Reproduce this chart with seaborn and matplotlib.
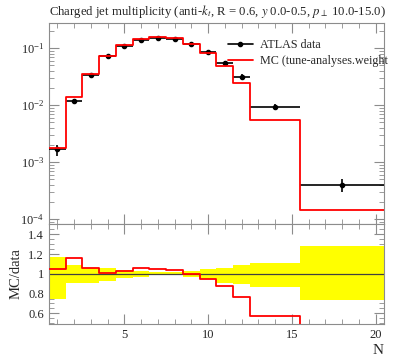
import numpy as np
import pandas as pd
import matplotlib
matplotlib.use("Agg")
import matplotlib.pyplot as plt
from matplotlib.lines import Line2D
from matplotlib.ticker import MultipleLocator, FormatStrFormatter, LogLocator
import seaborn as sns

# bin edges / centres (jet multiplicity N)
edges = [0.5, 1.5, 2.5, 3.5, 4.5, 5.5, 6.5, 7.5, 8.5, 9.5, 10.5, 11.5, 12.5, 15.5, 20.5]
centers = [1, 2, 3, 4, 5, 6, 7, 8, 9, 10, 11, 12, 14, 18]

# ATLAS data and MC prediction
data = [1.69e-3, 0.0120, 0.0340, 0.0733, 0.111, 0.140, 0.150, 0.146, 0.119, 0.0872, 0.0558, 0.0318, 0.00946, 4.0e-4]
mc = [1.78e-3, 0.0139, 0.0360, 0.0743, 0.1147, 0.1476, 0.1575, 0.1524, 0.119, 0.0825, 0.0490, 0.0245, 0.00545, 1.42e-4]

# relative data uncertainty (up / down)
err_up = [0.17, 0.09, 0.057, 0.057, 0.04, 0.03, 0.02, 0.02, 0.03, 0.045, 0.064, 0.088, 0.114, 0.283]
err_dn = [0.255, 0.088, 0.088, 0.07, 0.045, 0.03, 0.015, 0.01, 0.035, 0.05, 0.094, 0.104, 0.138, 0.263]

df = pd.DataFrame({"N": centers, "data": data, "mc": mc, "up": err_up, "dn": err_dn})
df["lo"] = edges[:-1]
df["hi"] = edges[1:]
df["ratio"] = df["mc"] / df["data"]

sns.set_style("ticks")
plt.rcParams["font.family"] = ["Liberation Serif", "DejaVu Serif"]
plt.rcParams["mathtext.fontset"] = "stix"

fig = plt.figure(figsize=(3.97, 3.58), dpi=100)
ax = fig.add_axes([0.1234, 0.3743, 0.8436, 0.5615])
rax = fig.add_axes([0.1234, 0.095, 0.8436, 0.2793], sharex=ax)

grey = "0.55"

# --- main panel ---
ax.set_yscale("log")
xerr = [df["N"] - df["lo"], df["hi"] - df["N"]]
yerr = [df["data"] * df["dn"], df["data"] * df["up"]]
ax.errorbar(df["N"], df["data"], xerr=xerr, yerr=yerr, fmt="o", color="black",
            ms=3, lw=1.2, capsize=0, zorder=3)
sns.histplot(x=df["N"], weights=df["mc"], bins=edges, element="step", fill=False,
             color="red", lw=1.3, ax=ax, zorder=4)
ax.set_xlim(0.5, 20.5)
ax.set_ylim(8.17e-5, 0.278)
ax.set_xlabel("")
ax.set_ylabel("")
ax.tick_params(labelbottom=False)
ax.set_title("Charged jet multiplicity (anti-$k_t$, R = 0.6, $y$ 0.0-0.5, $p_\\perp$ 10.0-15.0)",
             fontsize=9.2, loc="left", pad=6)
ax.yaxis.set_major_locator(LogLocator(base=10))
ax.yaxis.set_minor_locator(LogLocator(base=10, subs=np.arange(2, 10)))
handles = [Line2D([], [], color="black", marker="o", ms=3, lw=1.2),
           Line2D([], [], color="red", lw=1.3)]
ax.legend(handles, ["ATLAS data", "MC (tune-analyses.weight"], loc="upper left",
          bbox_to_anchor=(0.515, 0.95), frameon=False, fontsize=8.7,
          handlelength=2.1, handletextpad=0.6, borderpad=0, labelspacing=0.35)

# --- ratio panel ---
rax.fill_between(edges, list(1 + df["up"]) + [1 + err_up[-1]], list(1 - df["dn"]) + [1 - err_dn[-1]],
                 step="post", color="yellow", lw=0, zorder=1)
rax.axhline(1, color="0.25", lw=0.9, zorder=2)
sns.histplot(x=df["N"], weights=df["ratio"], bins=edges, element="step", fill=False,
             color="red", lw=1.3, ax=rax, zorder=4)
rax.set_ylim(0.492, 1.505)
rax.set_xlim(0.5, 20.5)
rax.set_ylabel("MC/data", fontsize=10.5)
rax.set_xlabel("N", loc="right", fontsize=11, labelpad=2)
rax.yaxis.set_major_locator(MultipleLocator(0.2))
rax.yaxis.set_minor_locator(MultipleLocator(0.05))
rax.yaxis.set_major_formatter(FormatStrFormatter("%g"))
rax.xaxis.set_major_locator(MultipleLocator(5))
rax.xaxis.set_minor_locator(MultipleLocator(1))

for a in (ax, rax):
    for s in a.spines.values():
        s.set_color(grey)
    a.tick_params(which="both", direction="in", top=True, right=True, color=grey, labelsize=9)
    a.tick_params(which="major", length=7)
    a.tick_params(which="minor", length=3.5)

fig.savefig("out.png", dpi=100)
